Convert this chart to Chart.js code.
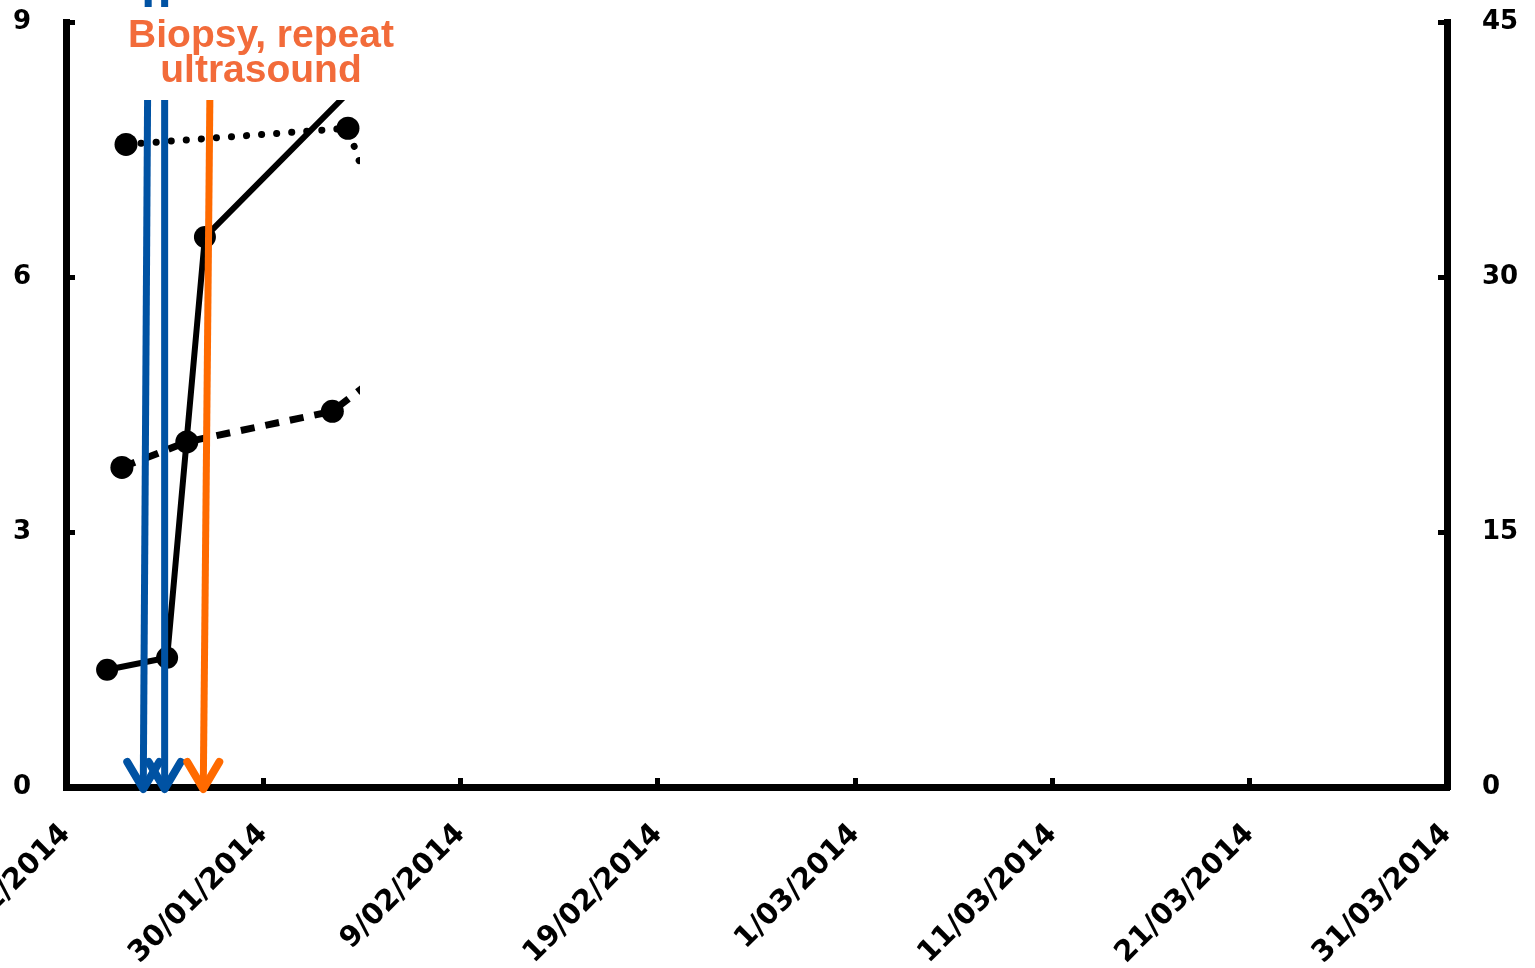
<!DOCTYPE html>
<html lang="en">
<head>
    <meta charset="UTF-8">
    <title>Timeline</title>
    <script src="https://cdn.jsdelivr.net/npm/chart.js"></script>
    <style>
        html, body { margin: 0; padding: 0; background: #fff; }
        #wrap { width: 1535px; height: 968px; position: relative; }
    </style>
</head>
<body>
    <div id="wrap"><canvas id="timeline"></canvas></div>
    <script>
        // x axis counts days from this date
        const startDate = '2014-01-20T00:00';
        const xTickLabels = ['20/01/2014', '30/01/2014', '9/02/2014', '19/02/2014', '1/03/2014', '11/03/2014', '21/03/2014', '31/03/2014'];
        const leftTicks = [0, 3, 6, 9];
        const rightTicks = [0, 15, 30, 45];

        // series (last point of each sits behind the cut)
        const solidDates = ['2014-01-22T02:00', '2014-01-25T03:00', '2014-01-27T01:00', '2014-02-06T00:00'];
        const solidValues = [1.38, 1.52, 6.47, 8.8];
        const dottedDates = ['2014-01-23T01:00', '2014-02-03T07:00', '2014-02-05T00:00'];
        const dottedValues = [7.56, 7.75, 6.6];
        const dashedDates = ['2014-01-22T20:00', '2014-01-26T03:00', '2014-02-02T12:00', '2014-02-06T00:00'];
        const dashedValues = [3.76, 4.06, 4.42, 5.05];

        // event arrows: where the shaft starts and where the tip lands
        const arrowTopDates = ['2014-01-24T04:00', '2014-01-25T00:00', '2014-01-27T07:00'];
        const arrowTipDates = ['2014-01-23T22:00', '2014-01-25T00:00', '2014-01-26T23:00'];
        const arrowColors = ['#0052a3', '#0052a3', '#ff6a00'];
        const arrowStartY = [0, 0, 100];
        const noteLines = ['Biopsy, repeat', 'ultrasound'];

        const dayOf = s => (new Date(s) - new Date(startDate)) / 86400000;
        const dmyDay = s => {
            const [d, m, y] = s.split('/').map(Number);
            return (new Date(y, m - 1, d) - new Date(2014, 0, 20)) / 86400000;
        };
        const xTickValues = xTickLabels.map(dmyDay);
        const pts = (dates, vals) => dates.map((d, i) => ({ x: dayOf(d), y: vals[i] }));

        const tickFont = { family: 'DejaVu Sans', size: 26, weight: 'bold' };

        // data to the right of the cut and above the note box is hidden
        const clipSeries = {
            id: 'clipSeries',
            beforeDatasetsDraw(chart) {
                const { ctx, chartArea } = chart;
                ctx.save();
                ctx.beginPath();
                ctx.rect(0, 100, chartArea.left + 294, chartArea.bottom + 20 - 100);
                ctx.clip();
            },
            afterDatasetsDraw(chart) {
                chart.ctx.restore();
            }
        };

        const arrows = {
            id: 'arrows',
            afterDraw(chart) {
                const { ctx, chartArea } = chart;
                const xs = chart.scales.x;
                ctx.save();
                arrowTopDates.forEach((d, i) => {
                    const x0 = xs.getPixelForValue(dayOf(d));
                    const x1 = xs.getPixelForValue(dayOf(arrowTipDates[i]));
                    const tipY = chartArea.bottom + 2;
                    ctx.strokeStyle = arrowColors[i];
                    ctx.lineWidth = 7;
                    ctx.lineCap = 'butt';
                    ctx.beginPath();
                    ctx.moveTo(x0, arrowStartY[i]);
                    ctx.lineTo(x1, tipY - 3);
                    ctx.stroke();
                    ctx.lineWidth = 8;
                    ctx.lineCap = 'round';
                    ctx.lineJoin = 'round';
                    ctx.beginPath();
                    ctx.moveTo(x1 - 16, tipY - 27);
                    ctx.lineTo(x1, tipY);
                    ctx.lineTo(x1 + 16, tipY - 27);
                    ctx.stroke();
                });
                // note box over the arrows
                ctx.fillStyle = '#fff';
                ctx.fillRect(chartArea.left + 52, 7, 282, 93);
                ctx.fillStyle = '#f26b3a';
                ctx.font = 'bold 39px "Liberation Sans"';
                ctx.textAlign = 'center';
                ctx.textBaseline = 'alphabetic';
                noteLines.forEach((t, i) => ctx.fillText(t, chartArea.left + 195, 47 + i * 35));
                ctx.restore();
            }
        };

        const ctx = document.getElementById('timeline').getContext('2d');
        new Chart(ctx, {
            type: 'line',
            data: {
                datasets: [
                    {
                        data: pts(solidDates, solidValues),
                        borderColor: '#000',
                        borderWidth: 6,
                        pointRadius: 11,
                        pointBackgroundColor: '#000',
                        pointBorderWidth: 0
                    },
                    {
                        data: pts(dottedDates, dottedValues),
                        borderColor: '#000',
                        borderWidth: 7,
                        borderDash: [0.1, 15],
                        borderCapStyle: 'round',
                        pointRadius: 11.5,
                        pointBackgroundColor: '#000',
                        pointBorderWidth: 0
                    },
                    {
                        data: pts(dashedDates, dashedValues),
                        borderColor: '#000',
                        borderWidth: 7,
                        borderDash: [14, 11],
                        pointRadius: 11.5,
                        pointBackgroundColor: '#000',
                        pointBorderWidth: 0
                    }
                ]
            },
            options: {
                responsive: true,
                maintainAspectRatio: false,
                animation: false,
                layout: { padding: { top: 22, left: 0, right: 0, bottom: 0 } },
                plugins: { legend: { display: false }, tooltip: { enabled: false } },
                scales: {
                    x: {
                        type: 'linear',
                        min: xTickValues[0],
                        max: xTickValues[xTickValues.length - 1],
                        afterBuildTicks: s => { s.ticks = xTickValues.map(v => ({ value: v })); },
                        afterFit: s => { s.height = 181; s.paddingLeft = 0; s.paddingRight = 0; },
                        ticks: {
                            autoSkip: false,
                            minRotation: 45,
                            maxRotation: 45,
                            padding: 39,
                            color: '#000',
                            font: { family: 'DejaVu Sans', size: 29, weight: 'bold' },
                            callback: (v, i) => xTickLabels[i]
                        },
                        grid: { drawOnChartArea: false, tickLength: -9, tickWidth: 5, tickColor: '#000' },
                        border: { display: true, width: 7, color: '#000' }
                    },
                    y: {
                        position: 'left',
                        min: leftTicks[0],
                        max: leftTicks[leftTicks.length - 1],
                        afterBuildTicks: s => { s.ticks = leftTicks.map(v => ({ value: v })); },
                        afterFit: s => { s.width = 66; s.paddingTop = 0; s.paddingBottom = 0; },
                        ticks: { padding: 44, color: '#000', font: tickFont },
                        grid: { drawOnChartArea: false, tickLength: -9, tickWidth: 5, tickColor: '#000' },
                        border: { display: true, width: 7, color: '#000' }
                    },
                    y1: {
                        position: 'right',
                        min: rightTicks[0],
                        max: rightTicks[rightTicks.length - 1],
                        afterBuildTicks: s => { s.ticks = rightTicks.map(v => ({ value: v })); },
                        afterFit: s => { s.width = 88; s.paddingTop = 0; s.paddingBottom = 0; },
                        ticks: { padding: 44, color: '#000', font: tickFont },
                        grid: { drawOnChartArea: false, tickLength: -9, tickWidth: 5, tickColor: '#000' },
                        border: { display: true, width: 7, color: '#000' }
                    }
                }
            },
            plugins: [clipSeries, arrows]
        });
    </script>
</body>
</html>
